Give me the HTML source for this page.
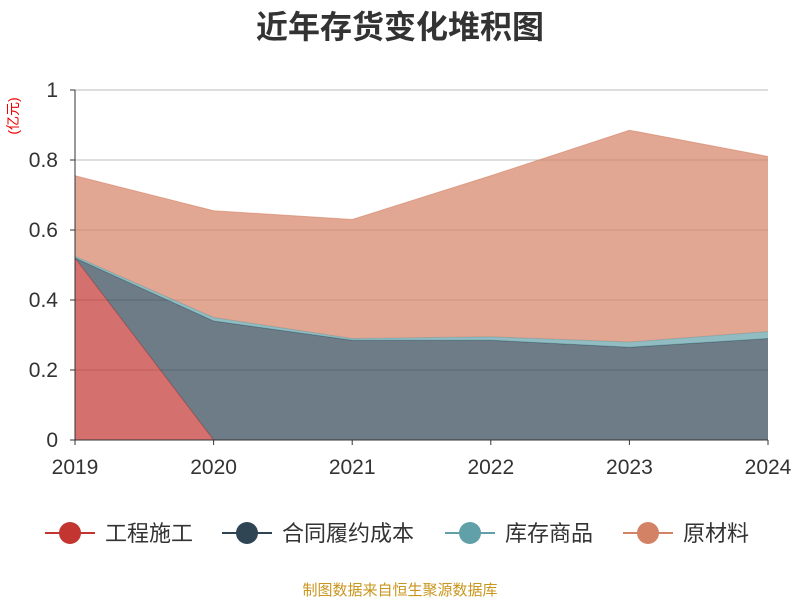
<!DOCTYPE html>
<html><head><meta charset="utf-8"><style>
body{margin:0;background:#fff;width:800px;height:600px;overflow:hidden}
text{font-family:"Liberation Sans","Noto Sans CJK SC",sans-serif}
</style></head><body>
<svg id="c" width="800" height="600">
<text x="400" y="38" text-anchor="middle" font-size="32" font-weight="bold" fill="#333">近年存货变化堆积图</text>
<text transform="translate(18,116) rotate(-90)" text-anchor="middle" font-size="14" fill="#e00">(亿元)</text>
<g id="grid"></g><g id="areas"></g><g id="axes"></g><g id="legend"></g>
<text x="400" y="595" text-anchor="middle" font-size="15" fill="#c8961e">制图数据来自恒生聚源数据库</text>
</svg>
<script>
const categories=["2019","2020","2021","2022","2023","2024"];
const seriesNames=["工程施工","合同履约成本","库存商品","原材料"];
const gongcheng=[0.52,0,0,0,0,0];
const hetong=[0,0.34,0.285,0.285,0.265,0.29];
const kucun=[0.005,0.01,0.005,0.01,0.015,0.02];
const yuancailiao=[0.23,0.305,0.34,0.46,0.605,0.50];
const yTicks=[0,0.2,0.4,0.6,0.8,1];
const yTickLabels=["0","0.2","0.4","0.6","0.8","1"];
const colors=["#c23531","#2f4554","#61a0a8","#d48265"];
const NS="http://www.w3.org/2000/svg";
const X0=75,X1=768,Y0=440,Y1=90;
const x=i=>X0+(X1-X0)*i/(categories.length-1);
const y=v=>Y0-(Y0-Y1)*v;
function mk(t,a,p){const e=document.createElementNS(NS,t);for(const k in a)e.setAttribute(k,a[k]);p.appendChild(e);return e;}
const grid=document.getElementById('grid'),axes=document.getElementById('axes'),areas=document.getElementById('areas'),leg=document.getElementById('legend');
yTicks.forEach((v,i)=>{
 if(v>0){const l=mk('line',{x1:X0,x2:X1,y1:y(v),y2:y(v),stroke:'#bbb','stroke-width':1},grid);
 
 }
 const t=mk('text',{x:58,y:y(v)+7,'text-anchor':'end','font-size':21,fill:'#333'},axes);t.textContent=yTickLabels[i];
 
 
 const tk=mk('line',{x1:X0-5,x2:X0,y1:y(v),y2:y(v),stroke:'#333'},axes);
 
 
});
const data=[gongcheng,hetong,kucun,yuancailiao];
let base=categories.map(()=>0);
data.forEach((s,si)=>{
 const top=s.map((v,i)=>base[i]+v);
 let d='M'+top.map((v,i)=>x(i)+','+y(v)).join(' L');
 for(let i=categories.length-1;i>=0;i--)d+=' L'+x(i)+','+y(base[i]);
 const p=mk('path',{d:d+'Z',fill:colors[si],'fill-opacity':0.7},areas);
 
 
 const ln=mk('polyline',{points:top.map((v,i)=>x(i)+','+y(v)).join(' '),fill:'none',stroke:colors[si],'stroke-width':1,'stroke-opacity':0.6},areas);
 
 
 base=top;
});
const ax=mk('line',{x1:X0,x2:X0,y1:Y1,y2:Y0,stroke:'#333'},axes);


const xa=mk('line',{x1:X0,x2:X1,y1:Y0,y2:Y0,stroke:'#333'},axes);


categories.forEach((c,i)=>{
 const tk=mk('line',{x1:x(i),x2:x(i),y1:Y0,y2:Y0+5,stroke:'#333'},axes);
 
 
 const t=mk('text',{x:x(i),y:474,'text-anchor':'middle','font-size':21,fill:'#333'},axes);t.textContent=c;
 
 
});
const lx=[45,222,445,623];
seriesNames.forEach((n,i)=>{
 const g=mk('g',{},leg);
 
 
 mk('line',{x1:lx[i],x2:lx[i]+50,y1:533,y2:533,stroke:colors[i],'stroke-width':2},g);
 mk('circle',{cx:lx[i]+25,cy:533,r:11,fill:colors[i]},g);
 const t=mk('text',{x:lx[i]+60,y:541,'font-size':22,fill:'#333'},g);t.textContent=n;
});
</script>
</body></html>
